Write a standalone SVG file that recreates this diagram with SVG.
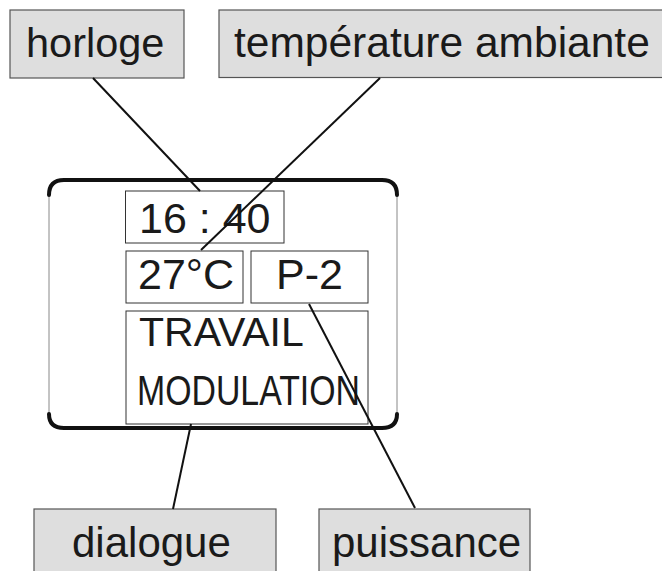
<svg xmlns="http://www.w3.org/2000/svg" width="662" height="571" viewBox="0 0 662 571">
<style>
.lbl{fill:#dedede;stroke:#555;stroke-width:1.2}
.inner{fill:#fff;stroke:#333;stroke-width:1}
.t{font-family:"Liberation Sans",Arial,sans-serif;fill:#1a1a1a}
.con{stroke:#111;stroke-width:2;fill:none}
.frame{stroke:#111;stroke-width:4;fill:none;stroke-linecap:round}
.side{stroke:#888;stroke-width:1;fill:none}
</style>
<rect width="662" height="571" fill="#fff"/>
<g id="display">
<path class="side" d="M49,196 L49,413 M397,196 L397,413"/>
<path class="frame" d="M49,195 Q49,180 64,180 L382,180 Q397,180 397,195"/>
<path class="frame" d="M49,414 Q49,428 64,428 L382,428 Q397,428 397,414"/>
</g>
<g id="clock">
<rect class="inner" x="125.5" y="191" width="158.5" height="52"/>
<text class="t" x="139" y="233" font-size="43">16 : 40</text>
</g>
<g id="temp">
<rect class="inner" x="126" y="251" width="117" height="52"/>
<text class="t" x="138" y="289" font-size="43">27°C</text>
</g>
<g id="power">
<rect class="inner" x="251" y="251" width="117" height="52"/>
<text class="t" x="276" y="289" font-size="43">P-2</text>
</g>
<g id="mode">
<rect class="inner" x="126" y="311" width="242" height="113"/>
<text class="t" x="139" y="346" font-size="41">TRAVAIL</text>
<text class="t" x="137" y="405" font-size="42" textLength="223" lengthAdjust="spacingAndGlyphs">MODULATION</text>
</g>
<g id="horloge">
<rect class="lbl" x="10" y="10" width="174" height="68"/>
<text class="t" x="26" y="57" font-size="41.5">horloge</text>
</g>
<g id="temperature">
<rect class="lbl" x="219" y="10" width="450" height="67.5"/>
<text class="t" x="234" y="57" font-size="42.5">température ambiante</text>
</g>
<g id="dialogue">
<rect class="lbl" x="34" y="509" width="242" height="70"/>
<text class="t" x="72" y="557" font-size="42">dialogue</text>
</g>
<g id="puissance">
<rect class="lbl" x="319" y="509" width="211" height="70"/>
<text class="t" x="332" y="557" font-size="42">puissance</text>
</g>
<g id="connectors">
<line class="con" x1="93" y1="78" x2="200" y2="191"/>
<line class="con" x1="380" y1="78" x2="201" y2="250"/>
<line class="con" x1="309" y1="304" x2="415" y2="508"/>
<line class="con" x1="191" y1="424" x2="173" y2="509"/>
</g>
</svg>
